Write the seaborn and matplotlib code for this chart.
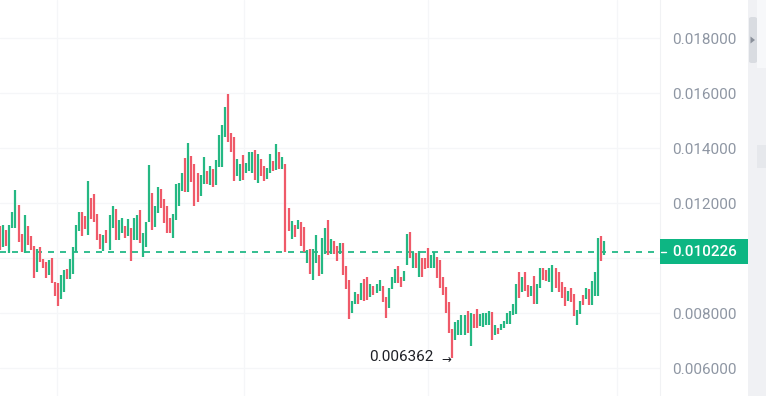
import matplotlib
matplotlib.use("Agg")
import numpy as np
import pandas as pd
import matplotlib.pyplot as plt
import seaborn as sns
from matplotlib.patches import Rectangle, FancyBboxPatch, Polygon

# ----------------------------------------------------------
# candle data (open / close per bar)
# ----------------------------------------------------------
opens = [
    0.011175, 0.010411, 0.011018, 0.010171, 0.011080, 0.011080, 0.011927, 0.010862, 0.010171, 0.011164,
    0.010800, 0.010447, 0.009502, 0.010389, 0.009964, 0.009866, 0.009382, 0.009989, 0.009138, 0.009102,
    0.008509, 0.008753, 0.009589, 0.009237, 0.009418, 0.010207, 0.010993, 0.011662, 0.011527, 0.010837,
    0.012193, 0.012327, 0.011600, 0.010873, 0.010255, 0.011018, 0.010291, 0.011102, 0.011782, 0.010655,
    0.010920, 0.011164, 0.010800, 0.011102, 0.010655, 0.010655, 0.011746, 0.010047, 0.010389, 0.011320,
    0.012353, 0.011138, 0.011626, 0.012498, 0.012146, 0.011891, 0.011466, 0.010717, 0.011382, 0.011891,
    0.012437, 0.013647, 0.012411, 0.013709, 0.013418, 0.013102, 0.012255, 0.012698, 0.013164, 0.012655,
    0.013237, 0.012655, 0.013320, 0.013320, 0.014389, 0.015964, 0.014557, 0.014389, 0.012993, 0.012811,
    0.013746, 0.013080, 0.013175, 0.013080, 0.013927, 0.012717, 0.013600, 0.013346, 0.012862, 0.013080,
    0.013527, 0.013200, 0.013866, 0.013237, 0.013418, 0.011829, 0.010680, 0.011200, 0.011055, 0.011309,
    0.011127, 0.009807, 0.010327, 0.009200, 0.009807, 0.010109, 0.009407, 0.010135, 0.011382, 0.010146,
    0.010618, 0.010437, 0.010146, 0.010557, 0.009709, 0.009200, 0.008011, 0.008327, 0.008680, 0.008473,
    0.009226, 0.009298, 0.008593, 0.008982, 0.008717, 0.008811, 0.008982, 0.008571, 0.008171, 0.008862,
    0.009080, 0.009709, 0.009298, 0.009164, 0.009746, 0.010935, 0.009626, 0.010171, 0.009320, 0.009989,
    0.009989, 0.010375, 0.009626, 0.009626, 0.010047, 0.009927, 0.009320, 0.008957, 0.008389, 0.007418,
    0.007018, 0.007200, 0.007200, 0.007200, 0.008073, 0.006811, 0.007953, 0.008135, 0.007527, 0.007502,
    0.007564, 0.007564, 0.008026, 0.007200, 0.007466, 0.007382, 0.007455, 0.007589, 0.007589, 0.007927,
    0.007953, 0.009480, 0.008775, 0.009480, 0.009018, 0.008629, 0.009357, 0.008327, 0.008898, 0.009647,
    0.009564, 0.009138, 0.008753, 0.009626, 0.009480, 0.009117, 0.008957, 0.008437, 0.008920, 0.008680,
    0.007564, 0.007953, 0.008655, 0.008509, 0.008873, 0.008291, 0.008629, 0.008629, 0.010811, 0.010109,
]
closes = [
    0.010291, 0.011200, 0.010447, 0.011200, 0.011662, 0.012473, 0.010593, 0.010229, 0.011564, 0.010473,
    0.010291, 0.009284, 0.010327, 0.009844, 0.009626, 0.009284, 0.009927, 0.009080, 0.008629, 0.008255,
    0.009382, 0.009564, 0.009226, 0.009964, 0.010411, 0.011200, 0.011662, 0.010800, 0.011044, 0.012800,
    0.011407, 0.011320, 0.010655, 0.010327, 0.010837, 0.010535, 0.011564, 0.011891, 0.010655, 0.011382,
    0.011466, 0.010738, 0.011407, 0.009891, 0.011466, 0.011564, 0.010535, 0.010920, 0.011320, 0.013382,
    0.011018, 0.011891, 0.012571, 0.011807, 0.011262, 0.010898, 0.010898, 0.011600, 0.012691, 0.012717,
    0.013102, 0.012411, 0.014193, 0.012775, 0.011902, 0.012047, 0.013018, 0.013662, 0.012691, 0.013346,
    0.012571, 0.013564, 0.014473, 0.014837, 0.015480, 0.014207, 0.013866, 0.012811, 0.013600, 0.013418,
    0.012837, 0.013466, 0.013844, 0.013844, 0.012837, 0.013782, 0.012993, 0.012811, 0.013284, 0.013771,
    0.013164, 0.014135, 0.013237, 0.013662, 0.010229, 0.010993, 0.011346, 0.010753, 0.011382, 0.010437,
    0.010218, 0.010291, 0.009418, 0.010317, 0.010837, 0.009346, 0.010738, 0.011102, 0.010109, 0.010680,
    0.010146, 0.009891, 0.010535, 0.009382, 0.008862, 0.007782, 0.008437, 0.008775, 0.008327, 0.009102,
    0.008447, 0.008473, 0.009055, 0.008655, 0.009055, 0.009200, 0.008389, 0.007807, 0.008920, 0.009298,
    0.009600, 0.009080, 0.008935, 0.009527, 0.010862, 0.009989, 0.010229, 0.009626, 0.010255, 0.009320,
    0.009589, 0.009647, 0.010109, 0.010229, 0.009284, 0.008898, 0.008655, 0.007989, 0.007262, 0.006362,
    0.007684, 0.007746, 0.007927, 0.007927, 0.007262, 0.007989, 0.007444, 0.007444, 0.007953, 0.007989,
    0.007989, 0.008073, 0.007018, 0.007564, 0.007226, 0.007600, 0.007709, 0.007989, 0.008073, 0.008317,
    0.009044, 0.008535, 0.009298, 0.008800, 0.008593, 0.008993, 0.008327, 0.009044, 0.009647, 0.009200,
    0.009164, 0.009647, 0.009746, 0.008898, 0.008775, 0.008557, 0.008255, 0.008800, 0.008411, 0.007891,
    0.008109, 0.008437, 0.008291, 0.008920, 0.008291, 0.009164, 0.009502, 0.010738, 0.009891, 0.010618,
]
last_price = 0.010226
low_price = 0.006362
grid_prices = [0.006, 0.008, 0.010, 0.012, 0.014, 0.016, 0.018]
label_prices = [0.006, 0.008, 0.012, 0.014, 0.016, 0.018]  # 0.010 sits under the price tag

GREEN = "#25B883"
RED = "#EF5A69"
LABEL_GREEN = "#0DB683"
TICK_GREY = "#8E96A3"

df = pd.DataFrame({"open": opens, "close": closes})
df["bar"] = np.arange(len(df))
df["top"] = df[["open", "close"]].max(axis=1)
df["bottom"] = df[["open", "close"]].min(axis=1)
df["color"] = np.where(df["close"] >= df["open"], GREEN, RED)

# ----------------------------------------------------------
# figure
# ----------------------------------------------------------
sns.set_theme(style="white")
plt.rcParams["font.family"] = ["Roboto", "DejaVu Sans"]

W, H = 766, 396
fig = plt.figure(figsize=(W / 100, H / 100), dpi=100)
fig.patch.set_facecolor("white")
plot_w = 660
ax = fig.add_axes([0, 0, plot_w / W, 1])

step = 3.034  # pixels per bar
ax.set_xlim(-0.3 / step, (plot_w - 0.3) / step)
ax.set_ylim(0.004982, 0.019382)

# grid
for v in grid_prices:
    ax.axhline(v, color="#F5F6F8", lw=0.9, zorder=0)
for gx in [18.7, 80.4, 141.0, 203.2]:
    ax.axvline(gx, color="#F5F6F8", lw=0.9, zorder=0)

# candles
ax.vlines(df["bar"], df["bottom"], df["top"], colors=df["color"],
          lw=1.6, capstyle="butt", zorder=3)

# last price dashed line
ax.axhline(last_price, color="#10B37E", lw=1.2, ls=(0, (3.6, 3.6)), zorder=2)

# low annotation
low_bar = int(np.argmin(df["bottom"]))
ax.annotate(f"{low_price:.6f}", xy=(low_bar, low_price), xytext=(-19, 1),
            textcoords="offset pixels", ha="right", va="center",
            fontsize=11, color="#1E2026")
ax.annotate("\u2192", xy=(low_bar, low_price), xytext=(-1, -1),
            textcoords="offset pixels", ha="right", va="center",
            fontsize=8.5, color="#1E2026", family="DejaVu Sans")

# right price scale
ax.yaxis.tick_right()
ax.set_yticks(label_prices)
ax.set_yticklabels([f"{v:.6f}" for v in label_prices])
ax.tick_params(axis="y", length=0, pad=8.6, labelsize=11, labelcolor=TICK_GREY)
ax.set_xticks([])
for s in ["top", "bottom", "left"]:
    ax.spines[s].set_visible(False)
ax.spines["right"].set_color("#F1F2F4")
ax.spines["right"].set_linewidth(0.8)

# last price label box
y_disp = ax.transData.transform((0, last_price))[1]
box_h = 25
fig.add_artist(Rectangle((plot_w / W, (y_disp - box_h / 2) / H), 88 / W, box_h / H,
                         transform=fig.transFigure, color=LABEL_GREEN, lw=0, zorder=5))
fig.add_artist(plt.Line2D([(plot_w + 1) / W, (plot_w + 6) / W], [y_disp / H, y_disp / H],
                          transform=fig.transFigure, color="white", lw=1, zorder=6))
fig.text((plot_w + 12) / W, y_disp / H, f"{last_price:.6f}", color="white",
         fontsize=11, fontweight="medium", va="center", ha="left", zorder=7)

# scrollbar strip on the far right
fig.add_artist(Rectangle((748 / W, 0), 18 / W, 1, transform=fig.transFigure,
                         color="#F0F1F4", lw=0, zorder=4))
fig.add_artist(Rectangle((757 / W, (H - 68) / H), 9 / W, 68 / H, transform=fig.transFigure,
                         color="#F7F8FA", lw=0, zorder=4))
fig.add_artist(Rectangle((757 / W, (H - 168) / H), 9 / W, 23 / H, transform=fig.transFigure,
                         color="#E6E8EC", lw=0, zorder=4))
fig.add_artist(FancyBboxPatch((749 / W, (H - 63) / H), 8 / W, 46 / H,
                              boxstyle="round,pad=0,rounding_size=0.004",
                              transform=fig.transFigure, color="#D9DCE1", lw=0, zorder=5))
fig.add_artist(Polygon([[750.5 / W, (H - 36.5) / H], [750.5 / W, (H - 43.5) / H],
                        [755 / W, (H - 40) / H]], closed=True,
                       transform=fig.transFigure, color="#8A909A", lw=0, zorder=6))

fig.savefig("out.png", dpi=100, facecolor="white")
